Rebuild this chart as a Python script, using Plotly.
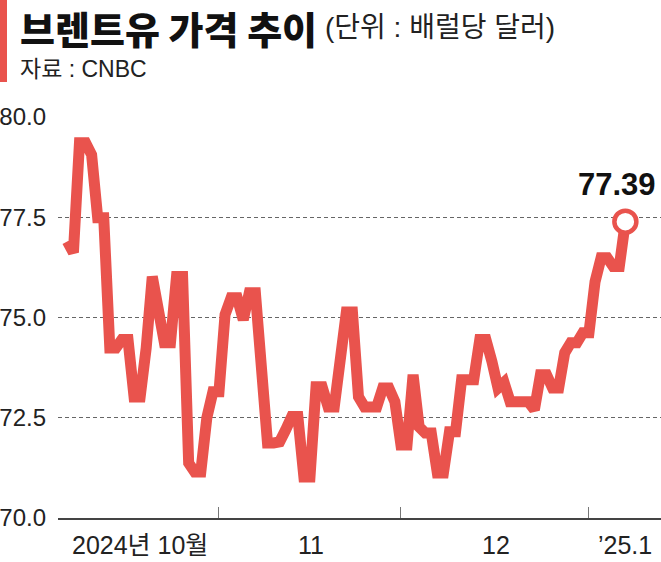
import plotly.graph_objects as go
import pandas as pd

# Brent daily close (USD/bbl), calendar days
oct_dates = pd.date_range("2024-10-07", "2024-10-31")
oct_values = [76.90, 76.62, 79.36, 79.36, 79.06, 77.49, 77.49, 74.24, 74.24, 74.45,
              74.45, 73.02, 73.02, 74.24, 76.02, 74.99, 74.37, 74.37, 76.02, 76.02,
              71.37, 71.15, 71.15, 72.50, 73.15]
nov_dates = pd.date_range("2024-11-01", "2024-11-30")
nov_values = [73.15, 75.07, 75.49, 75.49, 74.94, 75.62, 75.62, 73.87, 71.87, 71.87,
              71.90, 72.20, 72.53, 72.53, 71.02, 71.02, 73.27, 73.27, 72.77, 72.77,
              74.25, 75.14, 75.14, 73.02, 72.77, 72.77, 72.77, 73.24, 73.24, 72.90]
dec_dates = pd.date_range("2024-12-01", "2024-12-31")
dec_values = [71.82, 71.82, 73.57, 72.27, 72.12, 72.12, 71.12, 71.12, 72.15, 72.15,
              73.45, 73.45, 73.45, 74.45, 74.45, 73.90, 73.24, 73.38, 72.90, 72.90,
              72.90, 72.90, 72.70, 73.57, 73.57, 73.24, 73.24, 74.12, 74.37, 74.37,
              74.62]
jan_dates = pd.date_range("2025-01-01", "2025-01-07")
jan_values = [74.62, 75.89, 76.49, 76.49, 76.27, 76.27, 77.39]

month_ticks = ["2024-11-01", "2024-12-01", "2025-01-01"]
month_label_pos = ["2024-10-19", "2024-11-16 06:00", "2024-12-16 18:00", "2025-01-06 22:00"]
month_labels = ["2024년 10월", "11", "12", "’25.1"]
y_ticks = [70.0, 72.5, 75.0, 77.5, 80.0]

dates = list(oct_dates) + list(nov_dates) + list(dec_dates) + list(jan_dates)
values = oct_values + nov_values + dec_values + jan_values

RED = "#E9534D"
SANS = "Liberation Sans, Noto Sans CJK KR, sans-serif"

fig = go.Figure()
fig.add_trace(go.Scatter(x=dates, y=values, mode="lines",
                         line=dict(color=RED, width=11), hoverinfo="skip"))
fig.add_trace(go.Scatter(x=[dates[-1]], y=[values[-1]], mode="markers",
                         marker=dict(size=22, color="white",
                                     line=dict(color=RED, width=4.5)),
                         hoverinfo="skip"))

fig.update_layout(
    width=661, height=562,
    margin=dict(l=58, r=0, t=117, b=44),
    paper_bgcolor="white", plot_bgcolor="white",
    showlegend=False,
    xaxis=dict(
        type="date",
        range=["2024-10-05 11:00", "2025-01-12 21:00"],
        tickvals=month_ticks, showticklabels=False,
        ticks="inside", ticklen=11, tickwidth=1, tickcolor="#777",
        showgrid=False, zeroline=False,
        showline=True, linecolor="#444", linewidth=1.5,
    ),
    yaxis=dict(
        range=[70, 80], tickvals=y_ticks, tickformat=".1f",
        tickfont=dict(family=SANS, size=24, color="#222"),
        ticklabelstandoff=11,
        showgrid=True, gridcolor="#666", gridwidth=1, griddash="4px,3px",
        zeroline=False, showline=False,
    ),
)

# red bar + title block
fig.add_shape(type="rect", xref="paper", yref="paper",
              x0=-0.0962, x1=-0.0846, y0=1.0873, y1=1.2918,
              fillcolor=RED, line_width=0)
fig.add_annotation(xref="paper", yref="paper", x=-0.0665, y=1.222,
                   xanchor="left", yanchor="middle", showarrow=False,
                   text="브렌트유 가격 추이",
                   font=dict(family="Noto Sans CJK KR", size=38, color="#111", weight=900))
fig.add_annotation(xref="paper", yref="paper", x=0.44, y=1.222,
                   xanchor="left", yanchor="middle", showarrow=False,
                   text="(단위 : 배럴당 달러)",
                   font=dict(family=SANS, size=28, color="#222"))
fig.add_annotation(xref="paper", yref="paper", x=-0.0665, y=1.1209,
                   xanchor="left", yanchor="middle", showarrow=False,
                   text="자료 : CNBC",
                   font=dict(family=SANS, size=23, color="#222"))

# month labels under the axis
for pos, lab in zip(month_label_pos, month_labels):
    fig.add_annotation(x=pos, y=-0.0673, xref="x", yref="paper",
                       yanchor="middle", showarrow=False, text=lab,
                       font=dict(family=SANS, size=25, color="#222"))

# last value label
fig.add_annotation(x=dates[-1], y=values[-1], showarrow=False,
                   text="<b>77.39</b>", xanchor="right", xshift=33, yshift=37,
                   font=dict(family=SANS, size=31, color="#111"))

# page has a default 8px body margin; drop it so the figure fills the window
fig.write_html("out.html", config={"displayModeBar": False},
               post_script="document.body.style.margin='0';")
